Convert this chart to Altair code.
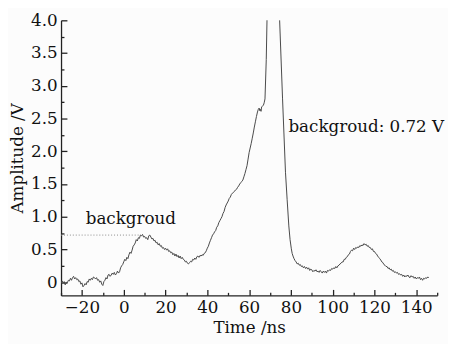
import altair as alt
import pandas as pd

# ---- data ----
time_ns = [
    -30, -29.5, -29, -28.5, -28, -27.5, -27, -26.5, -26, -25.5, -25, -24.5, -24, -23.5,
    -23, -22.5, -22, -21.5, -21, -20.5, -20, -19.5, -19, -18.5, -18, -17.5, -17, -16.5,
    -16, -15.5, -15, -14.5, -14, -13.5, -13, -12.5, -12, -11.5, -11, -10.5, -10, -9.5,
    -9, -8.5, -8, -7.5, -7, -6.5, -6, -5.5, -5, -4.5, -4, -3.5, -3, -2.5, -2, -1.5,
    -1, -0.5, 0, 0.5, 1, 1.5, 2, 2.5, 3, 3.5, 4, 4.5, 5, 5.5, 6, 6.5, 7, 7.5, 8, 8.5,
    9, 9.5, 10, 10.5, 11, 11.5, 12, 12.5, 13, 13.5, 14, 14.5, 15, 15.5, 16, 16.5, 17,
    17.5, 18, 18.5, 19, 19.5, 20, 20.5, 21, 21.5, 22, 22.5, 23, 23.5, 24, 24.5, 25,
    25.5, 26, 26.5, 27, 27.5, 28, 28.5, 29, 29.5, 30, 30.5, 31, 31.5, 32, 32.5, 33,
    33.5, 34, 34.5, 35, 35.5, 36, 36.5, 37, 37.5, 38, 38.5, 39, 39.5, 40, 40.5, 41,
    41.5, 42, 42.5, 43, 43.5, 44, 44.5, 45, 45.5, 46, 46.5, 47, 47.5, 48, 48.5, 49,
    49.5, 50, 50.5, 51, 51.5, 52, 52.5, 53, 53.5, 54, 54.5, 55, 55.5, 56, 56.5, 57,
    57.5, 58, 58.5, 59, 59.5, 60, 60.5, 61, 61.5, 62, 62.5, 63, 63.5, 64, 64.4, 64.8,
    65.1, 65.4, 65.7, 66, 66.4, 66.8, 67.2, 67.6, 68.2, 68.8, 71.5, 74.1, 74.6, 76,
    77.4, 78.2, 79, 79.6, 80.2, 80.6, 81, 81.5, 82, 82.5, 83, 83.5, 84, 84.5, 85, 85.5,
    86, 86.5, 87, 87.5, 88, 88.5, 89, 89.5, 90, 90.5, 91, 91.5, 92, 92.5, 93, 93.5,
    94, 94.5, 95, 95.5, 96, 96.5, 97, 97.5, 98, 98.5, 99, 99.5, 100, 100.5, 101,
    101.5, 102, 102.5, 103, 103.5, 104, 104.5, 105, 105.5, 106, 106.5, 107, 107.5,
    108, 108.5, 109, 109.5, 110, 110.5, 111, 111.5, 112, 112.5, 113, 113.5, 114,
    114.5, 115, 115.5, 116, 116.5, 117, 117.5, 118, 118.5, 119, 119.5, 120, 120.5,
    121, 121.5, 122, 122.5, 123, 123.5, 124, 124.5, 125, 125.5, 126, 126.5, 127,
    127.5, 128, 128.5, 129, 129.5, 130, 130.5, 131, 131.5, 132, 132.5, 133, 133.5,
    134, 134.5, 135, 135.5, 136, 136.5, 137, 137.5, 138, 138.5, 139, 139.5, 140,
    140.5, 141, 141.5, 142, 142.5, 143, 143.5, 144, 144.5, 145, 145.5, 146,
]
amp_v = [
    -0.02, 0.02, -0.01, 0.01, -0.04, 0.00, -0.01, 0.03, 0.02, 0.06, 0.03, 0.07, 0.09,
    0.05, 0.07, 0.04, 0.05, 0.01, 0.02, -0.03, -0.01, -0.07, -0.05, -0.02, -0.04, 0.01,
    0.00, 0.05, 0.03, 0.06, 0.04, 0.08, 0.07, 0.05, 0.07, 0.03, 0.04, 0.00, 0.02, -0.03,
    -0.05, 0.01, 0.03, 0.07, 0.05, 0.11, 0.12, 0.09, 0.11, 0.14, 0.12, 0.15, 0.11, 0.13,
    0.17, 0.14, 0.16, 0.22, 0.25, 0.27, 0.31, 0.35, 0.33, 0.38, 0.36, 0.42, 0.46, 0.44,
    0.49, 0.55, 0.57, 0.60, 0.65, 0.63, 0.68, 0.67, 0.72, 0.71, 0.73, 0.69, 0.70, 0.67,
    0.68, 0.65, 0.71, 0.72, 0.69, 0.66, 0.67, 0.63, 0.64, 0.60, 0.61, 0.57, 0.59, 0.55,
    0.56, 0.52, 0.53, 0.50, 0.52, 0.49, 0.51, 0.47, 0.48, 0.45, 0.46, 0.42, 0.44, 0.40,
    0.43, 0.39, 0.41, 0.37, 0.40, 0.36, 0.38, 0.35, 0.34, 0.31, 0.32, 0.29, 0.28, 0.30,
    0.32, 0.31, 0.35, 0.34, 0.37, 0.35, 0.39, 0.40, 0.38, 0.41, 0.40, 0.42, 0.41, 0.44,
    0.45, 0.48, 0.52, 0.55, 0.60, 0.64, 0.68, 0.72, 0.74, 0.77, 0.79, 0.84, 0.86, 0.91,
    0.94, 0.97, 1.00, 1.05, 1.08, 1.14, 1.18, 1.21, 1.24, 1.28, 1.30, 1.34, 1.36, 1.37,
    1.39, 1.41, 1.42, 1.45, 1.47, 1.50, 1.52, 1.54, 1.56, 1.61, 1.66, 1.72, 1.78, 1.88,
    1.98, 2.05, 2.12, 2.20, 2.28, 2.37, 2.45, 2.53, 2.60, 2.64, 2.66, 2.62, 2.64, 2.61,
    2.68, 2.69, 2.70, 2.74, 2.80, 3.40, 4.40, 9.00, 4.40, 4.00, 2.80, 1.68, 1.26, 0.86,
    0.65, 0.51, 0.44, 0.40, 0.36, 0.33, 0.31, 0.28, 0.29, 0.26, 0.27, 0.24, 0.25, 0.22,
    0.24, 0.21, 0.23, 0.20, 0.22, 0.18, 0.20, 0.19, 0.16, 0.18, 0.17, 0.19, 0.16, 0.17,
    0.15, 0.18, 0.16, 0.14, 0.17, 0.15, 0.17, 0.14, 0.18, 0.17, 0.19, 0.18, 0.21, 0.20,
    0.22, 0.21, 0.24, 0.22, 0.25, 0.26, 0.28, 0.29, 0.31, 0.31, 0.35, 0.35, 0.38, 0.39,
    0.42, 0.43, 0.47, 0.49, 0.48, 0.52, 0.50, 0.53, 0.52, 0.54, 0.53, 0.56, 0.55, 0.57,
    0.56, 0.59, 0.57, 0.58, 0.55, 0.56, 0.53, 0.53, 0.50, 0.51, 0.47, 0.47, 0.44, 0.43,
    0.40, 0.38, 0.36, 0.34, 0.31, 0.30, 0.27, 0.26, 0.24, 0.24, 0.21, 0.22, 0.19, 0.20,
    0.17, 0.18, 0.15, 0.16, 0.14, 0.15, 0.12, 0.13, 0.11, 0.12, 0.09, 0.11, 0.08, 0.10,
    0.09, 0.11, 0.08, 0.07, 0.10, 0.08, 0.09, 0.06, 0.08, 0.05, 0.07, 0.06, 0.08, 0.04,
    0.06, 0.03, 0.06, 0.05, 0.07, 0.06, 0.08, 0.07,
]

bg_level = [0.72]
bg_start = [-30]
bg_end = [8.2]

label_text = ["backgroud", "backgroud: 0.72 V"]
label_x = [-18.2, 78.8]
label_y = [0.96, 2.37]

x_major = [-20, 0, 20, 40, 60, 80, 100, 120, 140]
x_ticks = [-30, -20, -10, 0, 10, 20, 30, 40, 50, 60, 70, 80, 90, 100, 110, 120, 130, 140, 150]
y_major = [0, 0.5, 1.0, 1.5, 2.0, 2.5, 3.0, 3.5, 4.0]
y_ticks = [0, 0.25, 0.5, 0.75, 1.0, 1.25, 1.5, 1.75, 2.0, 2.25, 2.5, 2.75, 3.0,
           3.25, 3.5, 3.75, 4.0]

W, H = 383, 280
FONT = "DejaVu Serif"
INK = "#111111"

df = pd.DataFrame({"t": time_ns, "a": amp_v})
bg_df = pd.DataFrame({"x0": bg_start, "x1": bg_end, "y": bg_level})
lbl_df = pd.DataFrame({"x": label_x, "y": label_y, "label": label_text})

xs = alt.Scale(domain=[-30, 150], nice=False, zero=False)
ys = alt.Scale(domain=[-0.2, 4.0], nice=False, zero=False)

label_axis_common = dict(
    ticks=False, grid=False, labelFont=FONT, labelFontSize=17, labelColor=INK,
    titleFont=FONT, titleFontSize=17, titleFontWeight="normal", titleColor=INK,
    domainColor="#222222", domainWidth=1.3,
)

line = alt.Chart(df).mark_line(color="#474747", strokeWidth=1, clip=True).encode(
    x=alt.X("t:Q", scale=xs, axis=alt.Axis(
        orient="bottom", values=x_major, title="Time /ns", labelPadding=4,
        titlePadding=5, **label_axis_common)),
    y=alt.Y("a:Q", scale=ys, axis=alt.Axis(
        orient="left", values=y_major, title="Amplitude /V", labelPadding=4,
        titlePadding=4,
        labelExpr="datum.value == 0 ? '0' : format(datum.value, '.1f')",
        **label_axis_common)),
)

x_tick_size = {"condition": {"test": "datum.value % 20 === 0", "value": 6}, "value": 3}
y_tick_size = {"condition": {"test": "abs(datum.value * 2 - round(datum.value * 2)) < 0.01",
                             "value": 6}, "value": 3}

bg = alt.Chart(bg_df).mark_rule(color="#8a8a8a", strokeDash=[1, 2], strokeWidth=1).encode(
    x=alt.X("x0:Q", scale=xs, axis=alt.Axis(
        orient="top", offset=-H, values=x_ticks, labels=False, domain=False,
        grid=False, title=None, tickSize=x_tick_size, tickColor="#222222",
        tickWidth=1.3)),
    x2="x1:Q",
    y=alt.Y("y:Q", scale=ys, axis=alt.Axis(
        orient="right", offset=-W, values=y_ticks, labels=False, domain=False,
        grid=False, title=None, tickSize=y_tick_size, tickColor="#222222",
        tickWidth=1.3)),
)

labels = alt.Chart(lbl_df).mark_text(
    align="left", baseline="middle", font=FONT, fontSize=17, color=INK
).encode(
    x=alt.X("x:Q", scale=xs, axis=None),
    y=alt.Y("y:Q", scale=ys, axis=None),
    text="label:N",
)

chart = alt.layer(line, bg, labels).resolve_axis(
    x="independent", y="independent"
).properties(
    width=W, height=H, autosize="none",
    padding={"left": 54, "top": 9.5, "right": 11, "bottom": 46},
    background="#fcfcfc",
).configure_view(stroke=None)

chart.save("out.html", embed_options={"renderer": "svg", "actions": False})
